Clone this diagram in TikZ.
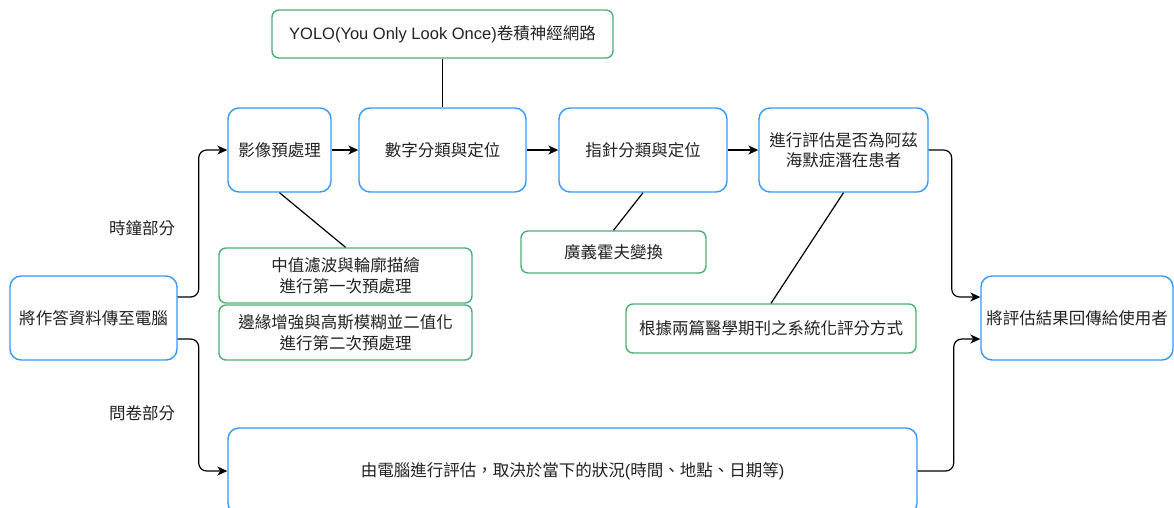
\documentclass[tikz,border=0pt]{standalone}
\usepackage{fontspec}
\setmainfont{Noto Sans CJK TC}
\newfontfamily\latf{Liberation Sans}
\usetikzlibrary{arrows.meta}
\definecolor{bluec}{RGB}{51,153,255}
\definecolor{greenc}{RGB}{76,176,116}
\definecolor{txt}{RGB}{34,34,34}
\tikzset{
  basebox/.style={draw, fill=white, inner sep=0pt, align=center, text=txt,
    font=\fontsize{16.5}{20.5}\selectfont, line width=1.4pt},
  bluebox/.style={basebox, draw=bluec, rounded corners=11pt},
  greenbox/.style={basebox, draw=greenc, rounded corners=7pt},
  lbl/.style={inner sep=0pt, text=txt, font=\fontsize{16.5}{20.5}\selectfont},
  conn/.style={draw=black, line width=1.2pt, rounded corners=8pt},
  arr/.style={conn, -{Stealth[length=10pt,width=9pt,inset=3pt]}},
}
\begin{document}
\begin{tikzpicture}[x=1pt,y=-1pt]
\useasboundingbox (0,0) rectangle (1174,507);
\clip (0,0) rectangle (1174,507);
% top
\node[greenbox, minimum width=341, minimum height=48] (yolo) at (442.5,34)
  {{\latf YOLO(You Only Look Once)}卷積神經網路};
% main row
\node[bluebox, minimum width=103, minimum height=84] (A) at (279.5,150) {影像預處理};
\node[bluebox, minimum width=167, minimum height=84] (B) at (442.5,150) {數字分類與定位};
\node[bluebox, minimum width=168, minimum height=84] (C) at (643,150) {指針分類與定位};
\node[bluebox, minimum width=169, minimum height=84] (D) at (843.5,150) {進行評估是否為阿茲\\海默症潛在患者};
\node[bluebox, minimum width=192, minimum height=84] (E) at (1077,318) {將評估結果回傳給使用者};
\node[bluebox, minimum width=167, minimum height=84] (F) at (93.5,318) {將作答資料傳至電腦};
\node[bluebox, minimum width=689, minimum height=86] (J) at (572.5,471)
  {由電腦進行評估，取決於當下的狀況{\latf (}時間、地點、日期等{\latf )}};
% green notes
\node[greenbox, minimum width=253, minimum height=55] (G1) at (345.5,275.5) {中值濾波與輪廓描繪\\進行第一次預處理};
\node[greenbox, minimum width=253, minimum height=55] (G2) at (345.5,332.5) {邊緣增強與高斯模糊並二值化\\進行第二次預處理};
\node[greenbox, minimum width=185, minimum height=42] (H) at (613.5,252) {廣義霍夫變換};
\node[greenbox, minimum width=290, minimum height=49] (I) at (771,328.5) {根據兩篇醫學期刊之系統化評分方式};
% labels
\node[lbl] (clk) at (142,228) {時鐘部分};
\node[lbl] (que) at (142,413) {問卷部分};
% plain links
\draw[conn] (yolo.south) -- (B.north);
\draw[conn] (A.south) -- (G1.north);
\draw[conn] (C.south) -- (H.north);
\draw[conn] (D.south) -- (I.north);
% arrows
\draw[arr] (A.east) -- (B.west);
\draw[arr] (B.east) -- (C.west);
\draw[arr] (C.east) -- (D.west);
\draw[arr] ([yshift=21pt]F.east) -- ++(21,0) |- (A.west);
\draw[arr] ([yshift=-21pt]F.east) -- ++(21,0) |- (J.west);
\draw[arr] (D.east) -- ++(23,0) |- ([yshift=21pt]E.west);
\draw[arr] (J.east) -- ++(36,0) |- ([yshift=-21pt]E.west);
\end{tikzpicture}
\end{document}
